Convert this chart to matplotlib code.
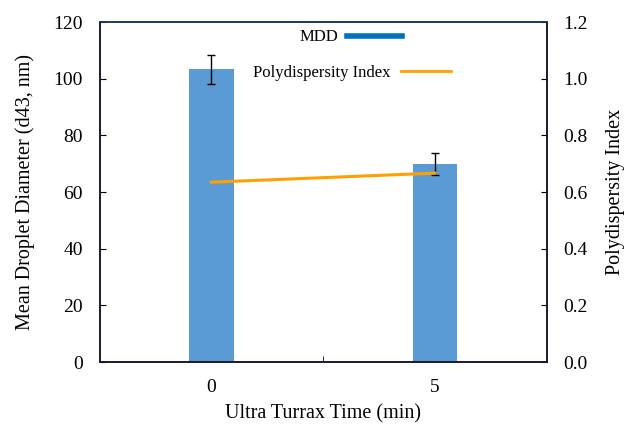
import numpy as np
import matplotlib.pyplot as plt
from matplotlib.lines import Line2D

plt.rcParams['font.family'] = ['Liberation Serif', 'DejaVu Serif']

tiempos = ['0', '5']
mdd = [103.4, 69.9]
mdd_err = [5.1, 3.8]
pdi = [0.635, 0.667]

fig = plt.figure(figsize=(6.27, 4.25), dpi=100)
ax = fig.add_axes([0.159, 0.148, 0.713, 0.800])

x = np.arange(len(tiempos))
ax.bar(x, mdd, width=0.2, color='#5B9BD5', zorder=2)
ax.errorbar(x, mdd, yerr=mdd_err, fmt='none', ecolor='black', elinewidth=1,
            capsize=3, capthick=1, zorder=3)
ax.set_xlim(-0.5, 1.5)
ax.set_ylim(0, 120)
ax.set_yticks(np.arange(0, 121, 20))
ax.set_xticks(x)
ax.set_xticklabels(tiempos)
ax.set_xticks([0.5], minor=True)
ax.tick_params(axis='x', which='major', length=0, labelsize=14, pad=12)
ax.tick_params(axis='x', which='minor', direction='in', length=4)
ax.tick_params(axis='y', direction='in', length=4, labelsize=14, pad=12)
ax.set_xlabel('Ultra Turrax Time (min)', fontsize=14.5, labelpad=6)
ax.set_ylabel('Mean Droplet Diameter (d43, nm)', fontsize=14.5, labelpad=13)

ax2 = ax.twinx()
ax2.plot(x, pdi, color='#FFA000', lw=2.2, zorder=4)
ax2.set_ylim(0, 1.2)
ax2.set_yticks(np.arange(0, 1.21, 0.2))
ax2.set_yticklabels(['%.1f' % v for v in np.arange(0, 1.21, 0.2)])
ax2.tick_params(axis='y', direction='in', length=4, labelsize=14, pad=12)
ax2.set_ylabel('Polydispersity Index', fontsize=14.5, labelpad=13)

for a in (ax, ax2):
    for s in a.spines.values():
        s.set_color('#1a1a2e')
        s.set_linewidth(1.2)
    a.spines['top'].set_color('#1F3864')

leg1 = ax2.legend([Line2D([], [], color='#0070C0', lw=4)], ['MDD'],
                  loc='center', bbox_to_anchor=(0.562, 0.955), frameon=False,
                  markerfirst=False, handlelength=3.35, fontsize=12,
                  handletextpad=0.5)
ax2.add_artist(leg1)
ax2.legend([Line2D([], [], color='#FFA000', lw=2)], ['Polydispersity Index'],
           loc='center', bbox_to_anchor=(0.564, 0.85), frameon=False,
           markerfirst=False, handlelength=3.0, fontsize=12,
           handletextpad=0.6)

fig.savefig('out.png', dpi=100)
